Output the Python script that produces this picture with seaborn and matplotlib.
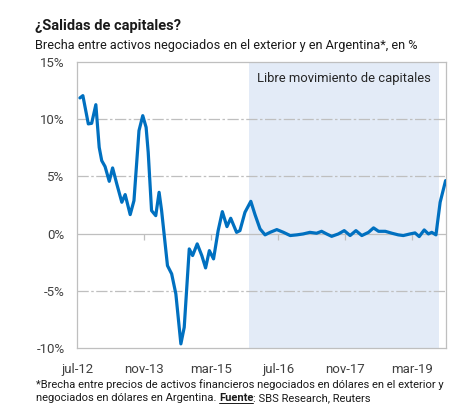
import matplotlib
matplotlib.use('Agg')
import matplotlib.pyplot as plt
from matplotlib.lines import Line2D
import seaborn as sns

# meses desde jul-12 (posición aproximada) y brecha en %
meses = [0.7, 1.4, 2.7, 3.5, 4.5, 5.3, 5.9, 6.7, 7.7, 8.5, 9.5, 10.7, 11.5,
         12.7, 13.6, 14.8, 15.7, 16.5, 17.0, 17.8, 18.8, 19.6, 20.2, 21.6,
         22.6, 23.6, 24.8, 25.6, 26.8, 27.6, 28.7, 29.8, 30.7, 31.6, 32.6,
         33.7, 34.7, 35.8, 36.7, 38.1, 38.9, 40.1, 41.5, 42.5, 43.7, 44.9,
         46.1, 47.7, 49.3, 50.9, 52.5, 54.0, 55.6, 57.2, 58.4, 59.6, 60.8,
         62.4, 63.8, 65.2, 66.6, 68.0, 69.6, 70.8, 72.0, 73.6, 75.2, 76.7,
         77.9, 79.5, 80.7, 81.7, 82.9, 83.9, 84.7, 85.7, 86.7, 88.0]
brecha = [11.86, 12.06, 9.59, 9.64, 11.27, 7.54, 6.38, 5.86, 4.57, 5.74,
          4.34, 2.74, 3.41, 1.66, 2.88, 9.0, 10.31, 9.29, 7.11, 2.01, 1.57,
          3.61, 2.01, -2.80, -3.52, -5.27, -9.64, -8.19, -1.34, -1.92, -0.90,
          -1.92, -3.00, -1.49, -2.21, 0.26, 1.92, 0.61, 1.34, 0.11, 0.26,
          1.86, 2.82, 1.66, 0.41, -0.11, 0.11, 0.35, 0.11, -0.17, -0.11,
          -0.03, 0.11, 0.03, 0.20, -0.03, -0.24, -0.03, 0.26, -0.17, 0.26,
          -0.17, 0.11, 0.50, 0.20, 0.20, 0.03, -0.11, -0.17, -0.03, 0.06,
          -0.26, 0.32, -0.03, 0.11, -0.11, 2.74, 4.63]

tick_meses = [0, 16, 32, 48, 64, 80]
tick_labels = ['jul-12', 'nov-13', 'mar-15', 'jul-16', 'nov-17', 'mar-19']
y_ticks = [-10, -5, 0, 5, 10, 15]
libre_inicio, libre_fin = 41.1, 86.4  # dic-15 a sep-19

sns.set_style('white')
plt.rcParams['font.family'] = ['Roboto', 'DejaVu Sans']

fig = plt.figure(figsize=(4.65, 4.11), dpi=100)
ax = fig.add_axes([77 / 465, 1 - 348 / 411, 369 / 465, 286 / 411])

gris = '#BFBFBF'
texto = '#404040'

ax.axvspan(libre_inicio, libre_fin, color='#E3EBF7', zorder=0, lw=0)
for y in [-5, 5, 10]:
    ax.axhline(y, color=gris, lw=0.9, dashes=(9, 2, 2, 2), zorder=1)
ax.axhline(0, color=gris, lw=0.9, zorder=1)

sns.lineplot(x=meses, y=brecha, ax=ax, color='#0070C0', lw=2.3, zorder=3)
ax.lines[-1].set_solid_joinstyle('round')
ax.lines[-1].set_solid_capstyle('round')

ax.set_xlim(0, 88.1)
ax.set_ylim(-10, 15)
ax.set_yticks(y_ticks)
ax.set_yticklabels([f'{v}%' for v in y_ticks])
ax.set_xticks(tick_meses)
ax.set_xticklabels(tick_labels)
ax.tick_params(axis='both', length=0, labelsize=9.5, colors=texto)
ax.tick_params(axis='x', pad=11)
ax.tick_params(axis='y', pad=9)
for s in ax.spines.values():
    s.set_color(gris)
    s.set_linewidth(0.9)

# marcas del eje sobre la línea del 0%
sec = ax.secondary_xaxis(0.4)
sec.set_xticks(tick_meses[1:])
sec.tick_params(length=4, color=gris, labelbottom=False, width=0.9)
sec.spines['bottom'].set_visible(False)

ax.text((libre_inicio + libre_fin) / 2, 13.6, 'Libre movimiento de capitales',
        ha='center', va='center', fontsize=9.4, color='#262626')

fig.text(35 / 465, 1 - 30 / 411, '¿Salidas de capitales?', fontsize=10.5,
         fontweight='bold', color='#1a1a1a', va='baseline')
fig.text(35 / 465, 1 - 49 / 411,
         'Brecha entre activos negociados en el exterior y en Argentina*, en %',
         fontsize=9.2, color='#1a1a1a', va='baseline')

fs_nota = 8.05
fig.text(36 / 465, 1 - 388 / 411,
         '*Brecha entre precios de activos financieros negociados en dólares en el exterior y',
         fontsize=fs_nota, color='#1a1a1a', va='baseline')
t1 = fig.text(36 / 465, 1 - 401 / 411, 'negociados en dólares en Argentina. ',
              fontsize=fs_nota, color='#1a1a1a', va='baseline')
fig.canvas.draw()
r = fig.canvas.get_renderer()
b1 = t1.get_window_extent(r)
t2 = fig.text(b1.x1 / fig.bbox.width, 1 - 401 / 411, 'Fuente', fontsize=fs_nota,
              fontweight='bold', color='#1a1a1a', va='baseline')
fig.canvas.draw()
b2 = t2.get_window_extent(r)
fig.text(b2.x1 / fig.bbox.width, 1 - 401 / 411, ': SBS Research, Reuters',
         fontsize=fs_nota, color='#1a1a1a', va='baseline')
yline = 1 - 402.5 / 411
fig.add_artist(Line2D([b2.x0 / fig.bbox.width, b2.x1 / fig.bbox.width],
                      [yline, yline], color='#1a1a1a', lw=0.7,
                      transform=fig.transFigure))

fig.savefig('out.png', dpi=100)
